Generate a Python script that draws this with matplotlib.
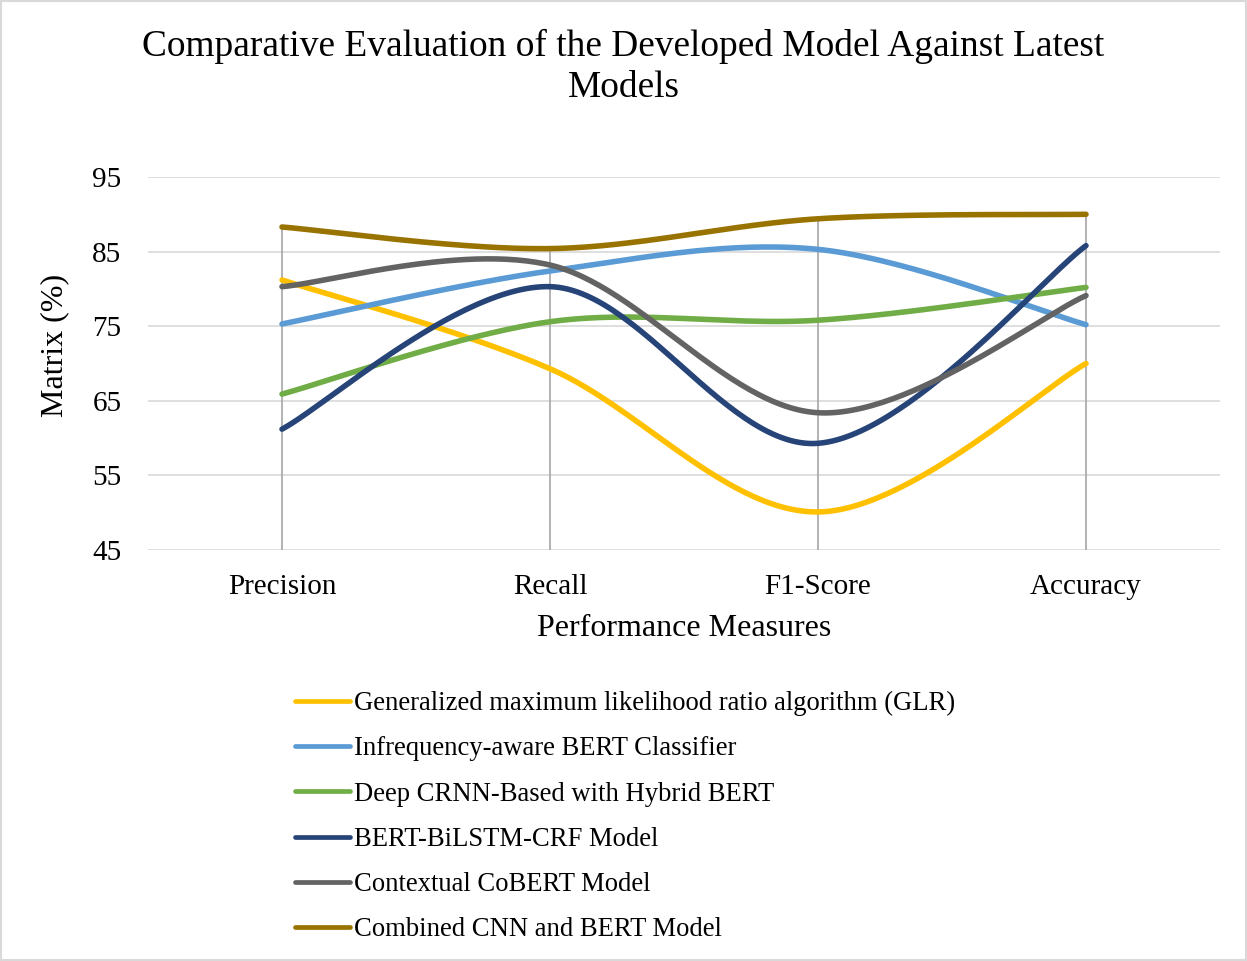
import numpy as np
import matplotlib
matplotlib.use("Agg")
import matplotlib.pyplot as plt
from matplotlib.patches import Rectangle

plt.rcParams['font.family'] = ['Liberation Serif', 'DejaVu Serif']

# data
measures = ['Precision', 'Recall', 'F1-Score', 'Accuracy']
glr      = [81.2, 69.3, 50.1, 70.0]
infreq   = [75.3, 82.4, 85.3, 75.2]
crnn     = [65.9, 75.6, 75.8, 80.2]
bilstm   = [61.2, 80.3, 59.3, 85.8]
cobert   = [80.3, 83.2, 63.4, 79.1]
cnn_bert = [88.3, 85.4, 89.4, 90.0]

series_names = ['Generalized maximum likelihood ratio algorithm (GLR)',
                'Infrequency-aware BERT Classifier',
                'Deep CRNN-Based with Hybrid BERT',
                'BERT-BiLSTM-CRF Model',
                'Contextual CoBERT Model',
                'Combined CNN and BERT Model']
series = [glr, infreq, crnn, bilstm, cobert, cnn_bert]
colors = ['#FFC000', '#5B9BD5', '#70AD47', '#264478', '#636363', '#997300']
yticks = [45, 55, 65, 75, 85, 95]


def smooth(y, n=60):
    # excel-style smoothed line: cubic bezier through the points,
    # control points from neighbouring points (catmull-rom, 1/6)
    y = np.asarray(y, dtype=float)
    x = np.arange(len(y), dtype=float)
    xp = np.concatenate([[x[0]], x, [x[-1]]])
    yp = np.concatenate([[y[0]], y, [y[-1]]])
    xs, ys = [], []
    t = np.linspace(0, 1, n)
    for i in range(len(y) - 1):
        p0 = np.array([x[i], y[i]])
        p3 = np.array([x[i + 1], y[i + 1]])
        p1 = p0 + (np.array([xp[i + 2], yp[i + 2]]) - np.array([xp[i], yp[i]])) / 6
        p2 = p3 - (np.array([xp[i + 3], yp[i + 3]]) - np.array([xp[i + 1], yp[i + 1]])) / 6
        b = ((1 - t) ** 3)[:, None] * p0 + (3 * (1 - t) ** 2 * t)[:, None] * p1 \
            + (3 * (1 - t) * t ** 2)[:, None] * p2 + (t ** 3)[:, None] * p3
        xs.append(b[:, 0])
        ys.append(b[:, 1])
    return np.concatenate(xs), np.concatenate(ys)


fig = plt.figure(figsize=(12.47, 9.61), dpi=100)
ax = fig.add_axes([148 / 1247, 1 - 550 / 961, (1220 - 148) / 1247, (550 - 177) / 961])

x = np.arange(len(measures))

# drop lines from the highest point down to the axis
tops = np.max(np.array(series), axis=0)
ax.vlines(x, yticks[0], tops, color='#A5A5A5', lw=1.2, zorder=1)

lines = []
for name, vals, c in zip(series_names, series, colors):
    sx, sy = smooth(vals)
    ln, = ax.plot(sx, sy, color=c, lw=4, solid_capstyle='round', label=name, zorder=3)
    lines.append(ln)

ax.set_xlim(-0.5, len(measures) - 0.5)
ax.set_ylim(45, 95)
ax.set_yticks(yticks)
ax.set_xticks(x)
ax.set_xticklabels(measures)
ax.tick_params(axis='both', length=0, labelsize=21)
ax.tick_params(axis='y', pad=19)
ax.tick_params(axis='x', pad=17.5)
ax.grid(axis='y', color='#D9D9D9', lw=1.2, zorder=0)
ax.set_axisbelow(True)
for s in ax.spines.values():
    s.set_visible(False)

fig.text(0.5, 0.970, 'Comparative Evaluation of the Developed Model Against Latest\nModels',
         ha='center', va='top', fontsize=26.9, linespacing=1.25)
fig.text(55 / 1247, 1 - 345 / 961, 'Matrix (%)', rotation=90, ha='center', va='center', fontsize=23)
fig.text(684 / 1247, 1 - 629 / 961, 'Performance Measures', ha='center', va='center', fontsize=23)

leg = fig.legend(handles=lines, loc='upper left', bbox_to_anchor=(295 / 1247, 1 - 691 / 961),
                 frameon=False, fontsize=19.2, handlelength=2.05, handletextpad=0.15,
                 labelspacing=0.76, borderpad=0, borderaxespad=0)
for h in leg.get_lines():
    h.set_linewidth(3.4)

fig.add_artist(Rectangle((0.001, 0.001), 0.998, 0.998, transform=fig.transFigure,
                         fill=False, edgecolor='#D9D9D9', lw=1.5))

fig.savefig('out.png', dpi=100)
